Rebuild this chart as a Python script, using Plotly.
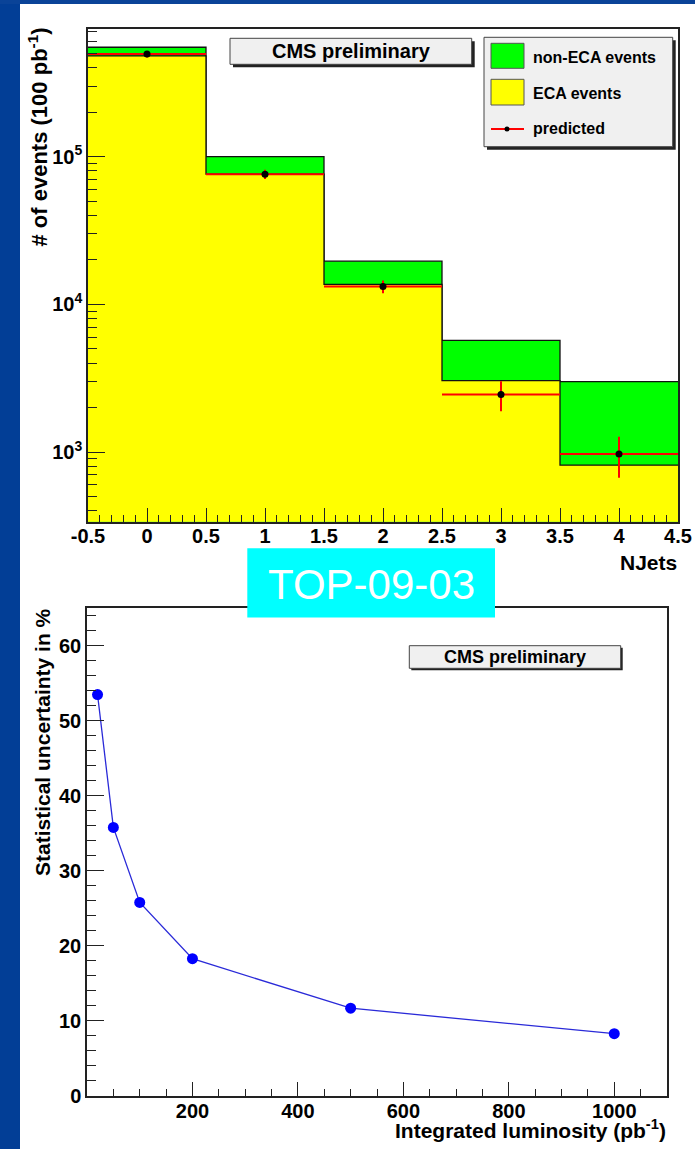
import plotly.graph_objects as go

W, H = 695, 1149

# ---------------- data: top chart (NJets, log scale) ----------------
njets_edges = [-0.5, 0.5, 1.5, 2.5, 3.5, 4.5]
njets = [0, 1, 2, 3, 4]
eca_events = [481000, 76100, 13650, 3040, 816]
non_eca_events = [70000, 23900, 5950, 2660, 2184]
predicted = [495000, 76000, 13200, 2450, 970]
predicted_err = [25000, 5500, 1300, 560, 300]
x_tick_vals = [-0.5, 0, 0.5, 1, 1.5, 2, 2.5, 3, 3.5, 4, 4.5]
x_tick_text = ["-0.5", "0", "0.5", "1", "1.5", "2", "2.5", "3", "3.5", "4", "4.5"]
y_tick_vals = [1e3, 1e4, 1e5]
y_tick_text = ["10<sup>3</sup>", "10<sup>4</sup>", "10<sup>5</sup>"]
legend_labels = ["non-ECA events", "ECA events", "predicted"]

# ---------------- data: bottom chart ----------------
lumi = [20, 50, 100, 200, 500, 1000]
stat_unc = [53.5, 35.8, 25.8, 18.3, 11.7, 8.3]
lumi_ticks = [200, 400, 600, 800, 1000]
unc_ticks = [0, 10, 20, 30, 40, 50, 60]

FONT = "Liberation Sans, Arial, Helvetica, sans-serif"


def px(x):
    return x / W


def py(y):
    return 1 - y / H


total = [e + n for e, n in zip(eca_events, non_eca_events)]


def step(v):
    return list(v) + [v[-1]]


fig = go.Figure()

# baseline for fill (below axis range)
fig.add_trace(go.Scatter(x=[njets_edges[0], njets_edges[-1]], y=[1, 1], mode="lines",
                         line=dict(width=0), showlegend=False, hoverinfo="skip",
                         xaxis="x", yaxis="y"))
fig.add_trace(go.Scatter(x=njets_edges, y=step(total), mode="lines",
                         line=dict(shape="hv", color="#111", width=1.3),
                         fill="tonexty", fillcolor="#00ff00", name=legend_labels[0],
                         showlegend=False, xaxis="x", yaxis="y"))
fig.add_trace(go.Scatter(x=[njets_edges[0], njets_edges[-1]], y=[1, 1], mode="lines",
                         line=dict(width=0), showlegend=False, hoverinfo="skip",
                         xaxis="x", yaxis="y"))
fig.add_trace(go.Scatter(x=njets_edges, y=step(eca_events), mode="lines",
                         line=dict(shape="hv", color="#111", width=1.3),
                         fill="tonexty", fillcolor="#ffff00", name=legend_labels[1],
                         showlegend=False, xaxis="x", yaxis="y"))
fig.add_trace(go.Scatter(x=njets, y=predicted, mode="markers", name=legend_labels[2],
                         marker=dict(color="black", size=7),
                         error_x=dict(type="constant", value=0.5, color="#ff0000",
                                      thickness=2, width=0),
                         error_y=dict(type="data", array=predicted_err, color="#ff0000",
                                      thickness=2, width=0),
                         showlegend=False, xaxis="x", yaxis="y"))

# bottom chart
fig.add_trace(go.Scatter(x=lumi, y=stat_unc, mode="lines+markers",
                         line=dict(color="#2a2ad8", width=1.3),
                         marker=dict(color="#0000ff", size=11),
                         showlegend=False, xaxis="x2", yaxis="y2"))

axis_common = dict(showline=True, mirror=True, linecolor="#222", linewidth=1.5,
                   showgrid=False, zeroline=False, ticks="inside", tickcolor="#222",
                   tickwidth=1.3, automargin=False,
                   tickfont=dict(family=FONT, size=20, color="black", weight="bold"))

minor_log = [m * 10 ** e for e in range(2, 6) for m in range(2, 10)]

fig.update_layout(
    width=W, height=H, autosize=False,
    margin=dict(l=0, r=0, t=0, b=0, pad=0, autoexpand=False),
    paper_bgcolor="white", plot_bgcolor="white",
    showlegend=False,
    xaxis=dict(domain=[px(88), px(678)], anchor="y", range=[-0.5, 4.5],
               tickmode="array", tickvals=x_tick_vals, ticktext=x_tick_text, ticklen=14,
               ticklabelstandoff=-4,
               minor=dict(dtick=0.1, tick0=-0.5, ticks="inside", ticklen=7,
                          tickcolor="#222", tickwidth=1.2),
               **axis_common),
    yaxis=dict(domain=[py(521.7), py(29)], anchor="x", type="log", range=[2.528, 5.8646],
               tickmode="array", tickvals=y_tick_vals, ticktext=y_tick_text, ticklen=17,
               minor=dict(tickmode="array", tickvals=minor_log, ticks="inside", ticklen=9,
                          tickcolor="#222", tickwidth=1.2),
               **axis_common),
    xaxis2=dict(domain=[px(87), px(667)], anchor="y2", range=[0, 1100],
                tickmode="array", tickvals=lumi_ticks, ticktext=[str(v) for v in lumi_ticks],
                ticklen=14, ticklabelstandoff=-4,
                minor=dict(dtick=50, tick0=0, ticks="inside", ticklen=7,
                           tickcolor="#222", tickwidth=1.2),
                **axis_common),
    yaxis2=dict(domain=[py(1096), py(608.3)], anchor="x2", range=[0, 65],
                tickmode="array", tickvals=unc_ticks, ticktext=[str(v) for v in unc_ticks],
                ticklen=17,
                minor=dict(dtick=2, tick0=0, ticks="inside", ticklen=9,
                           tickcolor="#222", tickwidth=1.2),
                **axis_common),
)

shapes = []
ann = []

# slide background strips
shapes.append(dict(type="rect", xref="paper", yref="paper", x0=0, x1=px(20), y0=0, y1=1,
                   fillcolor="#023e96", line=dict(width=0), layer="below"))
shapes.append(dict(type="rect", xref="paper", yref="paper", x0=0, x1=1, y0=py(4), y1=1,
                   fillcolor="#0a4398", line=dict(width=0), layer="below"))


def box(x0, y0, x1, y1, fill, shadow=3, border="#444", bw=1):
    if shadow:
        shapes.append(dict(type="rect", xref="paper", yref="paper",
                           x0=px(x0 + shadow), x1=px(x1 + shadow),
                           y0=py(y1 + shadow), y1=py(y0 + shadow),
                           fillcolor="#222", line=dict(width=0), layer="above"))
    shapes.append(dict(type="rect", xref="paper", yref="paper",
                       x0=px(x0), x1=px(x1), y0=py(y1), y1=py(y0),
                       fillcolor=fill, line=dict(width=bw, color=border), layer="above"))


def text(x, y, s, size, xanchor="center", yanchor="middle", angle=0, color="black",
         weight="bold", family=FONT):
    ann.append(dict(xref="paper", yref="paper", x=px(x), y=py(y), text=s,
                    showarrow=False, xanchor=xanchor, yanchor=yanchor, textangle=angle,
                    borderpad=0,
                    font=dict(family=family, size=size, color=color, weight=weight)))


# top: CMS preliminary
box(230, 38.3, 471.7, 64.3, "#f0f0f0")
text(351, 51.5, "CMS preliminary", 20)

# top legend
box(484, 37.3, 672.7, 146.7, "#f0f0f0")
shapes.append(dict(type="rect", xref="paper", yref="paper", x0=px(491), x1=px(524),
                   y0=py(68.3), y1=py(43.3), fillcolor="#00ff00",
                   line=dict(width=1, color="#555"), layer="above"))
shapes.append(dict(type="rect", xref="paper", yref="paper", x0=px(491), x1=px(524),
                   y0=py(105), y1=py(79.3), fillcolor="#ffff00",
                   line=dict(width=1, color="#555"), layer="above"))
shapes.append(dict(type="line", xref="paper", yref="paper", x0=px(491), x1=px(524),
                   y0=py(129), y1=py(129), line=dict(width=2, color="#ff0000"),
                   layer="above"))
shapes.append(dict(type="circle", xref="paper", yref="paper", x0=px(504.5), x1=px(509.5),
                   y0=py(131.5), y1=py(126.5), fillcolor="black",
                   line=dict(width=0), layer="above"))
text(531.5, 57.3, legend_labels[0], 16, xanchor="left")
text(531.5, 93.3, legend_labels[1], 16, xanchor="left")
text(531.5, 128.3, legend_labels[2], 16, xanchor="left")

# axis titles top
text(678, 562, "NJets", 21, xanchor="right")
text(37, 27, "# of events (100 pb<sup>-1</sup>)", 22, yanchor="top", angle=-90)

# TOP-09-03 label
box(247.3, 548.3, 495, 617.5, "#00ffff", shadow=0, border="#00ffff", bw=0)
text(371, 584, "TOP-09-03", 42, color="white", weight="normal")

# bottom: CMS preliminary
box(409.3, 645.7, 620.7, 668.3, "#f0f0f0", shadow=2)
text(515, 657, "CMS preliminary", 18)

# axis titles bottom
text(667, 1129, "Integrated luminosity (pb<sup>-1</sup>)", 21, xanchor="right")
text(42, 607, "Statistical uncertainty in %", 21, yanchor="top", angle=-90)

fig.update_layout(shapes=shapes, annotations=ann)

post = """
document.documentElement.style.margin = '0';
document.documentElement.style.padding = '0';
document.documentElement.style.overflow = 'hidden';
document.body.style.margin = '0';
document.body.style.padding = '0';
document.body.style.overflow = 'hidden';
"""

fig.write_html("out.html", config={"displayModeBar": False}, post_script=post)
